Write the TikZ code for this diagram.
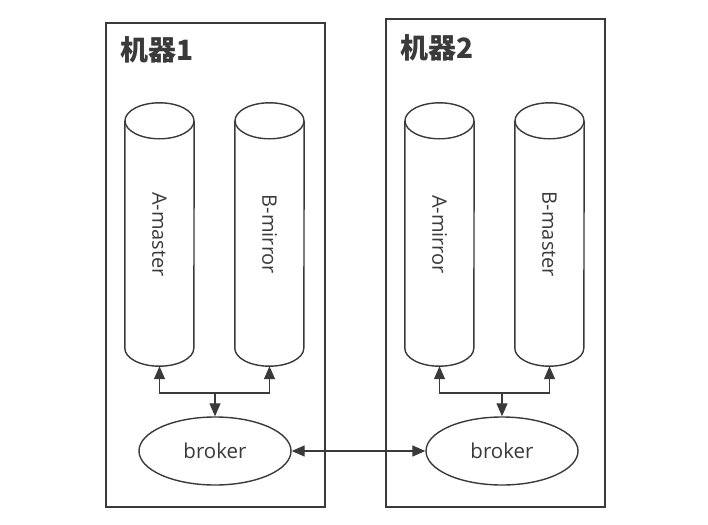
\documentclass[tikz,border=0pt]{standalone}
\usepackage{fontspec}
\usepackage{graphicx}
\setmainfont{Open Sans}
\newfontfamily\cjk{Noto Sans CJK SC}
\usetikzlibrary{arrows.meta,shapes.geometric}
\definecolor{ln}{HTML}{3A3A3A}
\begin{document}
\begin{tikzpicture}[x=1pt,y=-1pt,
  machine/.style={draw=ln, line width=1.8pt, minimum width=219pt, inner sep=0pt, anchor=north west},
  cylbody/.style={minimum width=69pt, minimum height=263pt, inner sep=0pt, font=\fontsize{20}{24}\selectfont, text=ln},
  brk/.style={ellipse, draw=ln, line width=1.4pt, minimum width=152pt, minimum height=68pt, inner sep=0pt, font=\fontsize{20.5}{24}\selectfont, text=ln},
  cylline/.style={draw=ln, line width=1.4pt},
  tip/.style={-{Triangle[length=13pt,width=11pt]}, draw=ln, line width=1.3pt},
  tips/.style={{Triangle[length=13pt,width=11pt]}-{Triangle[length=13pt,width=11pt]}, draw=ln, line width=1.3pt},
  title/.style={font=\cjk\bfseries\fontsize{28}{30}\selectfont, text=ln, anchor=west, inner sep=0pt}]
\useasboundingbox (0,0) rectangle (708,524);
\fill[white] (0,0) rectangle (708,524);
% machines
\node[machine, minimum height=484pt] (m1) at (105,22) {};
\node[machine, minimum height=488pt] (m2) at (385,18) {};
\node[title] (t1) at (120,50) {机器1};
\node[title] (t2) at (400,48) {机器2};
% cylinders
\node[cylbody] (c1) at (159.5,234.5) {\rotatebox{-90}{A-master}};
\node[cylbody] (c2) at (269.5,234.5) {\rotatebox{-90}{B-mirror}};
\node[cylbody] (c3) at (439.5,234.5) {\rotatebox{-90}{A-mirror}};
\node[cylbody] (c4) at (549.5,234.5) {\rotatebox{-90}{B-master}};
\foreach \c in {c1,c2,c3,c4}{
  \draw[cylline] ([yshift=-18pt]\c.north west) -- ([yshift=18pt]\c.south west)
     arc[start angle=180, end angle=360, x radius=34.5pt, y radius=18pt]
     -- ([yshift=-18pt]\c.north east);
  \draw[cylline] ([yshift=-18pt]\c.north) ellipse[x radius=34.5pt, y radius=18pt];
}
% brokers
\node[brk] (b1) at (215,451) {broker};
\node[brk] (b2) at (502,451) {broker};
% junctions
\coordinate (j1) at (215,393);
\coordinate (j2) at (502,393);
\draw[tip] (j1) -| (c1.south);
\draw[tip] (j1) -| (c2.south);
\draw[tip] (j1) -- (b1.north);
\draw[tip] (j2) -| (c3.south);
\draw[tip] (j2) -| (c4.south);
\draw[tip] (j2) -- (b2.north);
\draw[tips] (b1.east) -- (b2.west);
\end{tikzpicture}
\end{document}
